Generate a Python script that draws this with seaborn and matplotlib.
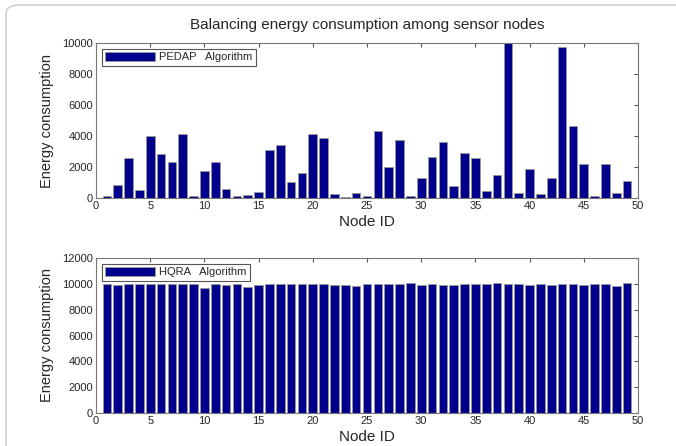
import numpy as np
import pandas as pd
import seaborn as sns
import matplotlib.pyplot as plt
from matplotlib.patches import FancyBboxPatch

# node ids and energy values
node_id = list(range(1, 50))
pedap = [130, 820, 2550, 500, 4020, 2850, 2350, 4125, 150, 1730,
         2330, 560, 130, 190, 390, 3070, 3410, 1000, 1620, 4100,
         3840, 240, 70, 350, 130, 4300, 1970, 3710, 110, 1300,
         2660, 3590, 800, 2920, 2550, 475, 1510, 10000, 300, 1880,
         240, 1270, 9760, 4620, 2180, 130, 2180, 300, 1100]
hqra = [10000, 9910, 10000, 10000, 9990, 10000, 9990, 9990, 9990, 9680,
        10000, 9910, 10000, 9730, 9910, 10000, 10000, 10000, 10000, 9990,
        9960, 9910, 9880, 9840, 10000, 9990, 9990, 9990, 10040, 9910,
        9960, 9910, 9910, 9960, 9990, 10000, 10040, 10000, 10000, 9940,
        10000, 9880, 9990, 9990, 9880, 9990, 9960, 9830, 10040]

df = pd.DataFrame({'node': node_id, 'PEDAP': pedap, 'HQRA': hqra})

sns.set_style('white')
plt.rcParams['font.family'] = ['Liberation Sans', 'DejaVu Sans']

bar_color = '#00008c'
fig = plt.figure(figsize=(6.76, 4.46), dpi=100)
W, H = 676, 446
ax1 = fig.add_axes([96 / W, 1 - 198 / H, 542 / W, 155 / H])
ax2 = fig.add_axes([96 / W, 1 - 413 / H, 542 / W, 155 / H])

# rounded frame around the figure (only the top-left corner is visible)
fig.patches.append(FancyBboxPatch((6 / W, -0.2), 1.4, 1.2 - 5 / H,
                                  boxstyle='round,pad=0,rounding_size=0.02',
                                  transform=fig.transFigure, fill=False,
                                  edgecolor='#c8c8c8', lw=1.0, zorder=-1))

for ax, col, label, ymax, in [(ax1, 'PEDAP', 'PEDAP   Algorithm', 10000),
                              (ax2, 'HQRA', 'HQRA   Algorithm', 12000)]:
    sns.barplot(data=df, x='node', y=col, native_scale=True, width=0.8,
                color=bar_color, edgecolor='#9a9a9a', linewidth=0.6,
                saturation=1, ax=ax, label=label, clip_on=True)
    ax.set_xlim(0, 50)
    ax.set_ylim(0, ymax)
    ax.set_xticks(range(0, 51, 5))
    ax.set_yticks(range(0, ymax + 1, 2000))
    ax.tick_params(direction='in', top=True, right=True, length=3,
                   labelsize=8, color='#555555', pad=2)
    for s in ax.spines.values():
        s.set_color('#777777')
        s.set_linewidth(0.8)
    ax.set_xlabel('Node ID', fontsize=11, labelpad=3)
    ax.set_ylabel('Energy consumption', fontsize=10.5, labelpad=6)
    leg = ax.legend(loc='upper left', fontsize=8, handlelength=4.5,
                    handleheight=0.9, fancybox=False, framealpha=1,
                    borderpad=0.3, borderaxespad=0.5, handletextpad=0.4)
    leg.get_frame().set_edgecolor('#555555')
    leg.get_frame().set_linewidth(0.8)

ax1.set_title('Balancing energy consumption among sensor nodes',
              fontsize=11, pad=10)

fig.savefig('out.png', dpi=100)
